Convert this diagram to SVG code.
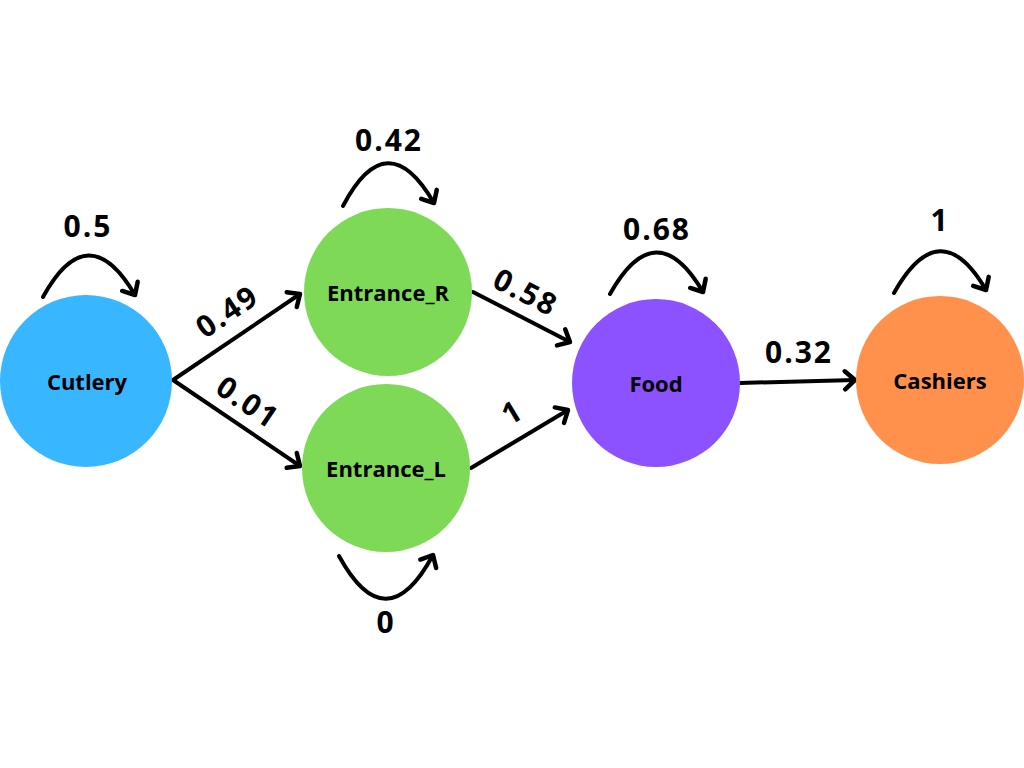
<svg xmlns="http://www.w3.org/2000/svg" width="1024" height="768" viewBox="0 0 1024 768">
<defs>
<marker id="arr" markerUnits="userSpaceOnUse" markerWidth="24" markerHeight="24" viewBox="0 0 24 24" refX="18" refY="12" orient="auto">
<path d="M8,3 L18,12 L8,21" fill="none" stroke="#000" stroke-width="4.5" stroke-linecap="round" stroke-linejoin="round"/>
</marker>
<style>
.node text{font-family:"Open Sans","Liberation Sans",sans-serif;font-weight:700;font-size:22px;fill:#000;text-anchor:middle}
.edge{fill:none;stroke:#000;stroke-width:4;stroke-linecap:round;marker-end:url(#arr)}
.lbl{font-family:"Open Sans","Liberation Sans",sans-serif;font-weight:700;font-size:30px;fill:#000;text-anchor:middle;letter-spacing:2px}
</style>
</defs>
<rect width="1024" height="768" fill="#fff"/>
<g id="connectors">
<path class="edge" d="M43,297 Q88,215 135,295"/>
<path class="edge" d="M343,206 Q387,122 434,203"/>
<path class="edge" d="M339,556 Q386,642 433,555"/>
<path class="edge" d="M610,294 Q656,212 703,292"/>
<path class="edge" d="M894,293 Q940,211 986,290"/>
<path class="edge" d="M173,380 L300,294"/>
<path class="edge" d="M173,380 L300,466"/>
<path class="edge" d="M473,292 L570,342"/>
<path class="edge" d="M471,468 L568,410"/>
<path class="edge" d="M740,383 L855,380"/>
<text class="lbl" x="88" y="237">0.5</text>
<text class="lbl" x="389" y="151">0.42</text>
<text class="lbl" x="386" y="633">0</text>
<text class="lbl" x="657" y="240">0.68</text>
<text class="lbl" x="940" y="231">1</text>
<text class="lbl" x="799" y="363">0.32</text>
<text class="lbl" transform="translate(227,311) rotate(-34)" y="11">0.49</text>
<text class="lbl" transform="translate(248,402) rotate(34)" y="11">0.01</text>
<text class="lbl" transform="translate(526,292) rotate(27)" y="11">0.58</text>
<text class="lbl" transform="translate(512,412) rotate(-31)" y="11">1</text>
</g>
<g id="node-cutlery" class="node">
<circle cx="86" cy="381" r="86" fill="#38B6FF"/>
<text x="87" y="390">Cutlery</text>
</g>
<g id="node-entrance-r" class="node">
<circle cx="388" cy="292" r="84" fill="#7ED957"/>
<text x="388" y="301">Entrance_R</text>
</g>
<g id="node-entrance-l" class="node">
<circle cx="386" cy="468" r="84" fill="#7ED957"/>
<text x="386" y="477">Entrance_L</text>
</g>
<g id="node-food" class="node">
<circle cx="656" cy="383" r="84" fill="#8C52FF"/>
<text x="656" y="392">Food</text>
</g>
<g id="node-cashiers" class="node">
<circle cx="940" cy="380" r="84" fill="#FF914D"/>
<text x="940" y="389">Cashiers</text>
</g>
</svg>
